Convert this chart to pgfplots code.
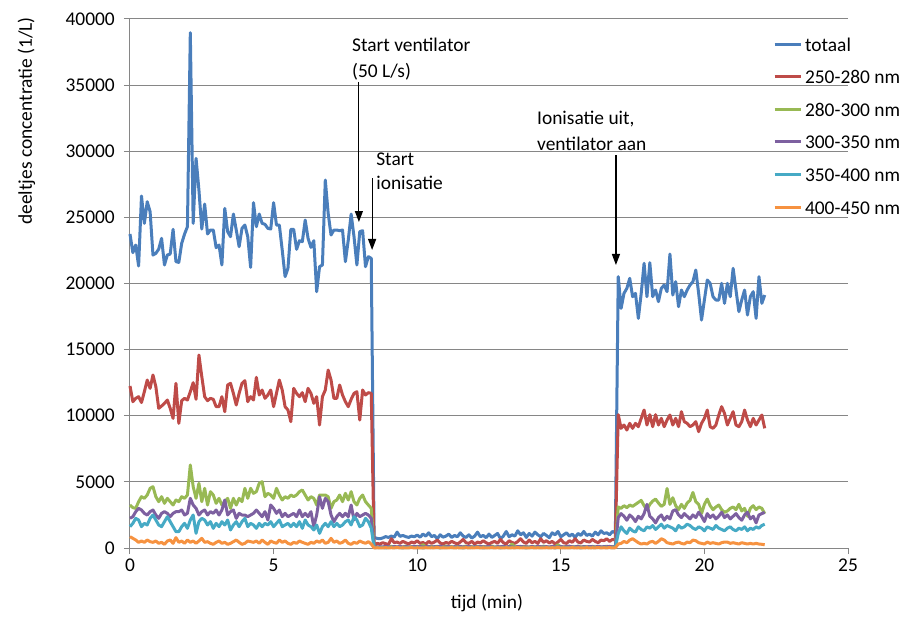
\documentclass[border=0pt]{standalone}
\usepackage{fontspec}
\setmainfont{Carlito}
\usepackage{pgfplots}
\usepackage{pgfplotstable}
\pgfplotsset{compat=1.18}
\usetikzlibrary{arrows.meta}

\definecolor{cTot}{HTML}{4A7EBB}
\definecolor{cA}{HTML}{BE4B48}
\definecolor{cB}{HTML}{98B954}
\definecolor{cC}{HTML}{7D60A0}
\definecolor{cD}{HTML}{46AAC5}
\definecolor{cE}{HTML}{F69240}
\definecolor{gridgray}{HTML}{868686}

% particle counts (1/L), one sample every 0.1 min from t = 0
\pgfplotstableread[row sep=\\]{
v\\
23742\\22330\\22910\\21322\\26615\\24549\\26187\\25431\\22154\\22280\\
22600\\23414\\21398\\22154\\22229\\24095\\21650\\21599\\23036\\23742\\
24297\\38964\\24549\\29463\\27068\\24120\\26010\\23742\\24044\\24044\\
22708\\22910\\21398\\25683\\23918\\23540\\25254\\24044\\22784\\24170\\
24422\\23540\\21221\\26111\\24297\\25254\\24549\\24473\\24170\\24120\\
26111\\24422\\24422\\22532\\20516\\21146\\24095\\24095\\22582\\23238\\
23162\\24800\\23414\\22734\\23238\\19381\\21272\\21398\\27824\\25305\\
23666\\24044\\24044\\23994\\24044\\21650\\23288\\25254\\23540\\21398\\
23918\\23994\\21272\\22028\\21900\\
800\\730\\700\\760\\860\\800\\900\\820\\1200\\880\\
950\\860\\800\\900\\850\\980\\820\\1050\\900\\1150\\
860\\950\\700\\1000\\820\\900\\1050\\800\\950\\850\\
1150\\900\\800\\1000\\750\\900\\1200\\850\\950\\780\\
1050\\800\\950\\1100\\700\\900\\1250\\850\\1000\\900\\
1300\\1000\\1150\\800\\1100\\900\\1200\\1000\\850\\1100\\
950\\780\\1150\\1000\\1250\\850\\1000\\1150\\900\\1050\\
800\\1100\\950\\1250\\950\\1050\\900\\1200\\1000\\1300\\
1100\\1150\\1000\\1250\\1150\\
20516\\18121\\19255\\19633\\20390\\19003\\19255\\17364\\19255\\21524\\
19003\\21574\\19003\\19507\\18626\\19633\\19885\\19381\\22229\\19129\\
20138\\18247\\19507\\19003\\19507\\19885\\20138\\21020\\19255\\17239\\
18751\\20264\\20014\\19003\\18751\\18751\\20014\\18499\\20014\\19003\\
21146\\19507\\17868\\18751\\19507\\17617\\19003\\19381\\17364\\20516\\
18499\\19129\\
}\tabTot

\pgfplotstableread[row sep=\\]{
v\\
12249\\11064\\11316\\11442\\11000\\11820\\12702\\12072\\13081\\12198\\
10560\\10737\\10938\\11190\\10560\\9804\\12450\\9426\\11140\\11316\\
11190\\11820\\12500\\11240\\14593\\12954\\11442\\11140\\11316\\11240\\
10686\\10686\\11442\\10308\\12324\\12450\\11694\\10812\\11694\\12450\\
12652\\11064\\11442\\11190\\12904\\11568\\11946\\11316\\11568\\11946\\
10686\\11694\\12702\\11946\\10686\\10434\\9552\\12072\\11694\\11442\\
11744\\11064\\12072\\11694\\10938\\11442\\9300\\11442\\11946\\13459\\
12702\\11316\\11316\\12324\\11568\\11064\\10686\\11240\\11694\\11820\\
9678\\11946\\11568\\11744\\11700\\
150\\350\\300\\400\\330\\250\\700\\400\\450\\350\\
500\\400\\300\\450\\380\\550\\350\\420\\280\\500\\
350\\450\\600\\380\\300\\420\\350\\500\\400\\300\\
450\\650\\400\\350\\500\\300\\450\\380\\550\\400\\
300\\420\\500\\350\\650\\400\\300\\550\\420\\350\\
480\\700\\450\\350\\600\\400\\500\\350\\700\\420\\
550\\380\\500\\300\\450\\650\\400\\350\\550\\430\\
700\\450\\380\\600\\500\\450\\650\\500\\400\\600\\
550\\700\\500\\650\\600\\
10080\\9048\\9300\\8922\\9426\\9048\\9426\\9174\\9804\\10434\\
9300\\10080\\9174\\10080\\9300\\9804\\9174\\9678\\10056\\9300\\
9804\\9174\\10308\\9552\\9426\\9174\\9300\\9552\\8796\\9426\\
9804\\10434\\9174\\9048\\9300\\10056\\10686\\10182\\9300\\9804\\
10308\\9300\\9174\\9552\\10434\\9678\\9174\\9804\\9300\\9678\\
10056\\9048\\
}\tabA

\pgfplotstableread[row sep=\\]{
v\\
3251\\3050\\2999\\3503\\3881\\3755\\4007\\4512\\4638\\3881\\
3503\\3881\\3377\\3755\\3503\\3251\\3629\\3503\\3881\\3755\\
4007\\6276\\4638\\3755\\4890\\3503\\4512\\3251\\4260\\4007\\
3377\\3755\\3251\\3503\\3755\\2999\\3755\\3251\\3755\\3503\\
4512\\3755\\4512\\
4134\\4260\\4890\\5016\\3881\\4134\\4007\\3755\\4512\\4007\\
3629\\3881\\3755\\4007\\3881\\4007\\4260\\4385\\4007\\3629\\
3881\\3755\\3251\\4007\\4007\\4007\\3881\\2999\\3503\\3629\\
4007\\3503\\4134\\3629\\4260\\3503\\3251\\3755\\4007\\3503\\
3251\\3000\\
20\\60\\80\\50\\100\\70\\120\\60\\90\\50\\
80\\140\\60\\100\\70\\120\\80\\250\\90\\60\\
110\\70\\130\\60\\90\\150\\80\\100\\60\\120\\
80\\90\\140\\70\\100\\60\\130\\80\\110\\70\\
90\\150\\60\\100\\80\\120\\70\\90\\300\\80\\
110\\70\\120\\90\\60\\130\\80\\100\\70\\140\\
90\\60\\110\\80\\250\\90\\70\\120\\60\\100\\
80\\140\\70\\110\\90\\60\\120\\80\\100\\70\\
90\\130\\80\\100\\120\\
3100\\3000\\3200\\3050\\3250\\3150\\3300\\3450\\3600\\3200\\
2900\\3300\\3550\\3700\\3400\\3150\\3300\\4500\\3300\\3800\\
3200\\2900\\3300\\3000\\3400\\3600\\4200\\3500\\3300\\2600\\
3300\\3700\\3200\\2900\\3100\\3250\\2900\\2700\\2800\\3000\\
3100\\2900\\3300\\2800\\3000\\2400\\3000\\3200\\2900\\3100\\
3000\\2600\\
}\tabB

\pgfplotstableread[row sep=\\]{
v\\
2243\\2369\\2747\\2999\\2873\\2621\\2495\\2747\\2873\\2495\\
2243\\2621\\2747\\2621\\2369\\2621\\2747\\2747\\2873\\2495\\
2621\\3755\\3251\\2999\\2495\\2747\\2873\\2495\\2747\\2621\\
2873\\2495\\2873\\3629\\2495\\2747\\2873\\2243\\2621\\2495\\
2495\\2369\\2495\\
2621\\2873\\2621\\2369\\2747\\2117\\3251\\2999\\2621\\2873\\
2369\\2621\\2369\\2495\\2621\\2369\\2873\\2369\\2621\\2369\\
2747\\1613\\2495\\3881\\2999\\3755\\3503\\2495\\1991\\2369\\
2621\\2369\\2621\\2369\\3251\\2117\\2621\\2369\\2495\\2621\\
2495\\2243\\
50\\80\\100\\70\\130\\90\\60\\110\\80\\120\\
70\\100\\90\\60\\130\\80\\110\\70\\90\\120\\
60\\100\\80\\140\\70\\90\\110\\60\\100\\80\\
120\\70\\90\\130\\60\\100\\80\\110\\70\\90\\
120\\80\\60\\100\\90\\130\\70\\110\\80\\60\\
100\\120\\80\\90\\70\\110\\60\\130\\90\\80\\
100\\70\\120\\90\\60\\110\\80\\100\\140\\70\\
90\\120\\60\\100\\80\\110\\90\\70\\130\\80\\
100\\90\\120\\80\\110\\
2300\\2600\\2400\\2100\\2500\\2300\\2000\\2400\\2200\\2600\\
3300\\2400\\2200\\1900\\2300\\2500\\2100\\2400\\2200\\2800\\
2900\\2500\\2300\\2600\\2400\\2200\\2500\\2300\\2700\\2400\\
2000\\2600\\2300\\2500\\2200\\2400\\2700\\2300\\2500\\2200\\
2400\\2600\\2300\\2100\\2500\\2700\\2200\\2400\\1900\\2500\\
2600\\2700\\
}\tabC

\pgfplotstableread[row sep=\\]{
v\\
1613\\1865\\2243\\2117\\1613\\1865\\1739\\2243\\2495\\2117\\
1739\\1613\\1991\\2369\\1991\\1613\\1235\\1235\\1613\\1865\\
1487\\2117\\2495\\1109\\1991\\2243\\2117\\1739\\1991\\1487\\
1865\\1613\\1991\\1739\\2117\\1361\\1739\\1991\\1613\\1991\\
2243\\1613\\1865\\
1739\\1487\\1865\\1613\\1865\\1739\\1991\\1613\\1865\\2117\\
1613\\1739\\1865\\1613\\1865\\1613\\1991\\1487\\2117\\1739\\
1613\\1361\\1739\\1109\\1613\\1865\\1613\\1991\\1613\\1865\\
1613\\1739\\1991\\2117\\1739\\2369\\2117\\1613\\1739\\2243\\
1991\\1500\\
40\\30\\20\\40\\10\\30\\50\\20\\40\\30\\
10\\40\\20\\50\\30\\20\\40\\10\\30\\50\\
20\\40\\30\\10\\40\\20\\50\\30\\20\\40\\
30\\10\\40\\20\\30\\50\\20\\40\\10\\30\\
40\\20\\30\\50\\10\\40\\30\\20\\40\\30\\
20\\50\\30\\10\\40\\20\\30\\40\\20\\50\\
30\\20\\40\\10\\30\\50\\20\\40\\30\\20\\
40\\30\\10\\50\\20\\40\\30\\20\\40\\30\\
50\\20\\40\\30\\40\\
1100\\1600\\1300\\1100\\1500\\1300\\1200\\1600\\1400\\1300\\
1600\\1500\\1700\\1400\\1600\\1800\\1500\\1700\\1600\\1500\\
1300\\1700\\1500\\1600\\1800\\1700\\1500\\1400\\1600\\1500\\
1300\\1600\\1500\\1400\\1700\\1500\\1400\\1300\\1500\\1600\\
1400\\1300\\1500\\1400\\1600\\1300\\1500\\1400\\1600\\1500\\
1700\\1800\\
}\tabD

\pgfplotstableread[row sep=\\]{
v\\
857\\731\\605\\428\\529\\428\\605\\479\\428\\529\\
353\\428\\277\\529\\605\\353\\781\\428\\529\\353\\
605\\428\\529\\353\\529\\731\\428\\479\\353\\277\\
428\\529\\353\\428\\277\\353\\479\\605\\428\\277\\
353\\529\\479\\
428\\529\\353\\605\\428\\277\\529\\428\\353\\605\\
428\\529\\353\\277\\428\\353\\529\\428\\353\\277\\
428\\353\\529\\428\\605\\353\\428\\731\\428\\529\\
353\\428\\605\\353\\277\\428\\353\\529\\428\\353\\
479\\300\\
10\\20\\15\\5\\25\\10\\20\\15\\30\\10\\
20\\5\\15\\25\\10\\20\\15\\5\\25\\10\\
20\\15\\30\\10\\20\\5\\15\\25\\10\\20\\
15\\5\\25\\10\\20\\15\\30\\10\\20\\5\\
15\\25\\10\\20\\15\\5\\25\\10\\20\\15\\
30\\10\\20\\5\\15\\25\\10\\20\\15\\5\\
25\\10\\20\\15\\30\\10\\20\\5\\15\\25\\
10\\20\\15\\5\\25\\10\\20\\15\\30\\10\\
20\\15\\25\\10\\20\\
300\\350\\500\\400\\600\\700\\550\\400\\300\\350\\
300\\450\\500\\350\\500\\700\\600\\400\\350\\300\\
400\\450\\350\\300\\450\\400\\600\\550\\400\\350\\
300\\450\\350\\400\\350\\300\\400\\450\\450\\350\\
400\\350\\300\\400\\350\\300\\350\\300\\350\\300\\
280\\250\\
}\tabE

\pgfplotsset{series/.style={line width=3bp, line join=round, no markers}}
\tikzset{note/.style={anchor=base west, inner sep=0pt},
  pointer/.style={line width=1.2bp, black, -{Triangle[length=11bp,width=8bp]}}}

\begin{document}
\fontsize{19.5}{23}\selectfont
\begin{tikzpicture}[font=\fontsize{19.5}{23}\selectfont]
\begin{axis}[
  at={(0,0)}, anchor=south west,
  scale only axis, width=718bp, height=529bp,
  xmin=0, xmax=25, ymin=0, ymax=40000,
  xtick={0,5,...,25}, ytick={0,5000,...,40000},
  scaled y ticks=false,
  axis x line*=bottom, axis y line*=left,
  axis line style={gridgray, line width=1bp},
  ymajorgrids, major grid style={gridgray, line width=1bp},
  tick align=outside, major tick length=6bp,
  tick style={gridgray, line width=1bp},
  /pgf/number format/assume math mode=true,
  /pgf/number format/1000 sep={},
  xticklabel style={anchor=base, inner sep=0pt, yshift=-17bp},
  yticklabel style={anchor=east, inner sep=0pt, xshift=-9bp},
  xlabel={tijd (min)},
  xlabel style={at={(axis description cs:0.4972,-0.1153)}, anchor=base, inner sep=0pt},
  ylabel={deeltjes concentratie (1/L)},
  ylabel style={at={(axis description cs:-0.1365,0.8072)}, anchor=base, inner sep=0pt},
  clip=false,
  legend cell align=left,
  legend style={at={(axis cs:22.39,38788)}, anchor=north west, draw=none, fill=none,
    inner sep=0pt, outer sep=0pt, row sep=14.6bp, column sep=3bp,
    nodes={inner sep=0pt, text height=16bp, text depth=2bp}},
  legend image code/.code={\draw[#1] (0bp,0bp) -- (26bp,0bp);},
]
\addplot[series, cTot] table[x expr=\coordindex*0.1, y=v] {\tabTot};
\addlegendentry{totaal}
\addplot[series, cA] table[x expr=\coordindex*0.1, y=v] {\tabA};
\addlegendentry{250-280 nm}
\addplot[series, cB] table[x expr=\coordindex*0.1, y=v] {\tabB};
\addlegendentry{280-300 nm}
\addplot[series, cC] table[x expr=\coordindex*0.1, y=v] {\tabC};
\addlegendentry{300-350 nm}
\addplot[series, cD] table[x expr=\coordindex*0.1, y=v] {\tabD};
\addlegendentry{350-400 nm}
\addplot[series, cE] table[x expr=\coordindex*0.1, y=v] {\tabE};
\addlegendentry{400-450 nm}

% event markers
\node[note] at (axis cs:7.73,37505) {Start ventilator};
\node[note] at (axis cs:7.73,35614) {(50 L/s)};
\draw[pointer] (axis cs:7.97,35236) -- (axis cs:7.97,24650);
\node[note] at (axis cs:8.57,28960) {Start};
\node[note] at (axis cs:8.57,27070) {ionisatie};
\draw[pointer] (axis cs:8.43,27977) -- (axis cs:8.43,22533);
\node[note] at (axis cs:14.17,32060) {Ionisatie uit,};
\node[note] at (axis cs:14.17,30094) {ventilator aan};
\draw[pointer] (axis cs:16.92,29716) -- (axis cs:16.92,21399);
\end{axis}
\pgfresetboundingbox
\path[use as bounding box] (-130bp,-71bp) rectangle (780bp,548bp);
\end{tikzpicture}
\end{document}
